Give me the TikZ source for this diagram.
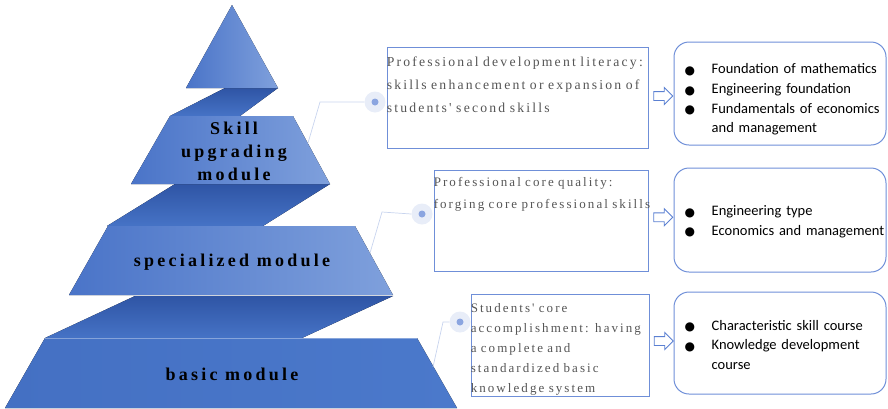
\documentclass[tikz,border=0pt]{standalone}
\usepackage{fontspec}
\setmainfont{Liberation Serif}
\newfontfamily\listfont{Carlito}
\newfontfamily\boxserif[LetterSpace=16]{Liberation Serif}
\newfontfamily\tierserif[LetterSpace=18]{Liberation Serif}
\newfontfamily\symfont{DejaVu Sans}
\usetikzlibrary{calc,shapes.arrows}

\definecolor{tierL}{HTML}{4A74C8}
\definecolor{tierR}{HTML}{7FA0DC}
\definecolor{bandT}{HTML}{2F55A5}
\definecolor{bandB}{HTML}{4673C6}
\definecolor{baseL}{HTML}{4470C3}
\definecolor{baseR}{HTML}{4B79CB}
\definecolor{boxline}{HTML}{6F8FD8}
\definecolor{linkc}{HTML}{C8D4EE}
\definecolor{haloc}{HTML}{E8EDF8}
\definecolor{dotc}{HTML}{8BA5E0}
\definecolor{arrowc}{HTML}{5B80D2}
\definecolor{boxtext}{HTML}{555555}

\newcommand\bul{\makebox[27pt][l]{\raisebox{-0.6pt}{\symfont\fontsize{12}{12}\selectfont ●}}}

\tikzset{
  tier/.style={left color=tierL, right color=tierR},
  basetier/.style={left color=baseL, right color=baseR},
  band/.style={top color=bandT, bottom color=bandB},
  tierlabel/.style={font=\tierserif\bfseries\fontsize{18}{23}\selectfont, align=center, inner sep=0pt, text=black},
  infobox/.style={draw=boxline, line width=0.9pt, rectangle, inner sep=0pt},
  infotext/.style={anchor=north west, inner sep=0pt, align=left, text=boxtext, text width=270pt},
  listbox/.style={draw=boxline, line width=1pt, rectangle, rounded corners=15pt, inner sep=0pt},
  listtext/.style={anchor=north west, inner sep=0pt, align=left, text=black, text width=210pt,
                   font=\listfont\fontsize{14.5}{19.7}\selectfont},
  link/.style={draw=linkc, line width=0.7pt},
  halo/.style={circle, fill=haloc, minimum size=21pt, inner sep=0pt},
  dotmark/.style={circle, fill=dotc, minimum size=7pt, inner sep=0pt},
  hollowarrow/.style={single arrow, draw=arrowc, fill=white, line width=0.9pt,
                      minimum height=19pt, minimum width=16pt, inner sep=4pt,
                      single arrow head extend=4pt}
}

\begin{document}
\begin{tikzpicture}[x=1pt,y=-1pt]
\useasboundingbox (0,0) rectangle (888,408);

% folded ribbons between the tiers
\fill[band] (225,88) -- (278,88) -- (240,116) -- (170,116) -- cycle;
\fill[band] (175,184) -- (330,184) -- (263,226) -- (107,226) -- cycle;
\fill[band] (135,296) -- (393,296) -- (302,338) -- (45,338) -- cycle;

% tiers of the pyramid
\fill[tier] (232,5) -- (278,88) -- (186,88) -- cycle;
\fill[tier] (170,116) -- (293,116) -- (330,184) -- (131,184) -- cycle;
\fill[tier] (108,226) -- (355,226) -- (393,295) -- (69,295) -- cycle;
\fill[basetier] (45,338) -- (417,338) -- (457,408) -- (5,408) -- cycle;
\draw[white, opacity=0.35, line width=0.8pt] (45,338) -- (417,338);

% tier labels
\node[tierlabel] (skill) at (234,151) {Skill\\upgrading\\module};
\node[tierlabel] (spec) at (232,262) {specialized module};
\node[tierlabel] (basic) at (232,374) {basic module};

% description boxes
\node[infobox, minimum width=261pt, minimum height=101pt] (b1) at (517.5,97.5) {};
\node[infobox, minimum width=214pt, minimum height=101pt] (b2) at (541,220.5) {};
\node[infobox, minimum width=178pt, minimum height=102pt] (b3) at (560,345) {};

\node[infotext, font=\boxserif\fontsize{13.7}{23}\selectfont] (b1t) at ($(b1.north west)+(0,10.5)$)
  {Professional development literacy:\\skills enhancement or expansion of\\students' second skills};
\node[infotext, font=\boxserif\fontsize{13}{22}\selectfont] (b2t) at ($(b2.north west)+(0,8)$)
  {Professional core quality:\\forging core professional skills};
\node[infotext, font=\boxserif\fontsize{13}{20}\selectfont] (b3t) at ($(b3.north west)+(0,9.5)$)
  {Students' core\\accomplishment: having\\a complete and\\standardized basic\\knowledge system};

% course lists
\node[listbox, minimum width=212pt, minimum height=103pt] (l1) at (780,93.5) {};
\node[listbox, minimum width=212pt, minimum height=104pt] (l2) at (780,220) {};
\node[listbox, minimum width=212pt, minimum height=102pt] (l3) at (780,343) {};

\node[listtext] (l1t) at ($(l1.north west)+(11,22)$)
  {\bul Foundation of mathematics\\\bul Engineering foundation\\\bul Fundamentals of economics\\\hspace*{27pt}and management};
\node[listtext] (l2t) at ($(l2.north west)+(11,38)$)
  {\bul Engineering type\\\bul Economics and management};
\node[listtext] (l3t) at ($(l3.north west)+(11,28.5)$)
  {\bul Characteristic skill course\\\bul Knowledge development\\\hspace*{27pt}course};

% arrows from descriptions to course lists
\node[hollowarrow] (a1) at ($(b1.east)!0.5!(l1.west)+(0,0.5)$) {};
\node[hollowarrow] (a2) at ($(b2.east)!0.5!(l2.west)+(0,-3)$) {};
\node[hollowarrow] (a3) at ($(b3.east)!0.5!(l3.west)+(0,-3)$) {};

% leader lines from the pyramid to the descriptions
\coordinate (e1) at (308,143);
\coordinate (k1) at (320,102);
\coordinate (e2) at (370,253);
\coordinate (k2) at (382,212);
\coordinate (e3) at (433,367);
\coordinate (k3) at (443,322);
\node[halo] (h1) at (375,102) {};
\node[halo] (h2) at (422,214) {};
\node[halo] (h3) at (460,322) {};
\draw[link] (e1) -- (k1) -- (h1.west);
\draw[link] (e2) -- (k2) -- (h2.west);
\draw[link] (e3) -- (k3) -- (h3.west);
\node[dotmark] (d1) at (h1.center) {};
\node[dotmark] (d2) at (h2.center) {};
\node[dotmark] (d3) at (h3.center) {};
\end{tikzpicture}
\end{document}
